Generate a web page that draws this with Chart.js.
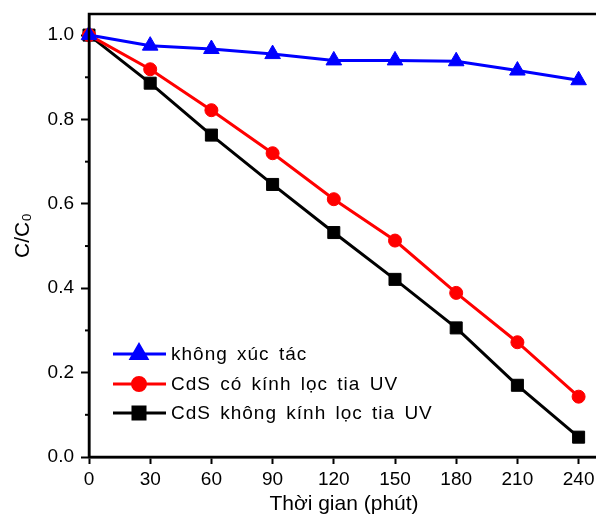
<!DOCTYPE html>
<html>
<head>
<meta charset="utf-8">
<script src="https://cdn.jsdelivr.net/npm/chart.js@4"></script>
<style>
  html, body { margin: 0; padding: 0; background: #fff; overflow: hidden; }
  #wrap { width: 609px; height: 517px; }
</style>
</head>
<body>
<div id="wrap"><canvas id="chart" width="609" height="517"></canvas></div>
<script>
// thời gian (phút)
const times = [0, 30, 60, 90, 120, 150, 180, 210, 240];
const noCatalyst = [1.0, 0.975, 0.967, 0.955, 0.94, 0.94, 0.938, 0.916, 0.893];
const cdsFilter = [1.0, 0.919, 0.822, 0.720, 0.611, 0.513, 0.389, 0.272, 0.143];
const cdsNoFilter = [1.0, 0.886, 0.763, 0.646, 0.532, 0.421, 0.306, 0.170, 0.047];
const seriesLabels = ['không xúc tác', 'CdS có kính lọc tia UV', 'CdS không kính lọc tia UV'];
const xTicks = [0, 30, 60, 90, 120, 150, 180, 210, 240];
const yTicks = [0.0, 0.2, 0.4, 0.6, 0.8, 1.0];
const yMinor = [0.1, 0.3, 0.5, 0.7, 0.9];

const FONT = '"Liberation Sans", Arial, sans-serif';

function toPoints(vals) {
    return times.map((t, i) => ({ x: t, y: vals[i] }));
}

// khung + vạch chia phụ
const framePlugin = {
    id: 'frame',
    afterDraw(chart) {
        const { ctx, chartArea: a, scales: { y } } = chart;
        ctx.save();
        ctx.strokeStyle = '#000';
        ctx.lineWidth = 2.5;
        ctx.strokeRect(a.left, a.top, a.right - a.left, a.bottom - a.top);
        ctx.lineWidth = 2;
        yMinor.forEach(v => {
            const py = y.getPixelForValue(v);
            ctx.beginPath();
            ctx.moveTo(a.left - 4, py);
            ctx.lineTo(a.left, py);
            ctx.stroke();
        });
        ctx.restore();
    }
};

// chú thích bên trong vùng vẽ
const legendPlugin = {
    id: 'innerLegend',
    afterDatasetsDraw(chart) {
        const ctx = chart.ctx;
        const rows = [354, 384, 413];
        ctx.save();
        chart.data.datasets.forEach((ds, i) => {
            const yy = rows[i];
            ctx.strokeStyle = ds.borderColor;
            ctx.fillStyle = ds.backgroundColor;
            ctx.lineWidth = 3;
            ctx.beginPath();
            ctx.moveTo(113, yy);
            ctx.lineTo(166, yy);
            ctx.stroke();
            Chart.helpers.drawPoint(ctx, { pointStyle: ds.pointStyle, radius: ds.pointRadius, rotation: 0, borderWidth: 1 }, 139, yy);
            ctx.fillStyle = '#000';
            ctx.font = '19px ' + FONT;
            ctx.letterSpacing = '1px';
            ctx.wordSpacing = '3px';
            ctx.textBaseline = 'middle';
            ctx.textAlign = 'left';
            ctx.fillText(ds.label, 171, yy + 1);
        });
        ctx.restore();
    }
};

new Chart(document.getElementById('chart'), {
    type: 'line',
    data: {
        datasets: [
            { label: seriesLabels[0], data: toPoints(noCatalyst), borderColor: '#0000ff', backgroundColor: '#0000ff', pointStyle: 'triangle', pointRadius: 9 },
            { label: seriesLabels[1], data: toPoints(cdsFilter), borderColor: '#ff0000', backgroundColor: '#ff0000', pointStyle: 'circle', pointRadius: 6.5 },
            { label: seriesLabels[2], data: toPoints(cdsNoFilter), borderColor: '#000000', backgroundColor: '#000000', pointStyle: 'rect', pointRadius: 8.5 }
        ].map(d => Object.assign(d, { borderWidth: 3, pointBorderWidth: 1, tension: 0, clip: false }))
    },
    options: {
        responsive: false,
        animation: false,
        layout: { padding: { left: 0, top: 14, right: 2, bottom: 0 } },
        plugins: { legend: { display: false }, tooltip: { enabled: false } },
        scales: {
            x: {
                type: 'linear',
                min: 0,
                max: 250,
                afterBuildTicks: s => { s.ticks = xTicks.map(v => ({ value: v })); },
                afterFit: s => { s.height = 60; },
                grid: { drawOnChartArea: false, drawTicks: true, tickLength: 7, tickWidth: 2, tickColor: '#000' },
                border: { display: true, color: '#000', width: 2.5 },
                ticks: { color: '#000', font: { family: FONT, size: 19 }, padding: 4, maxRotation: 0 },
                title: { display: true, text: 'Thời gian (phút)', color: '#000', font: { family: FONT, size: 21 }, padding: { top: 0, bottom: 0 } }
            },
            y: {
                min: 0,
                max: 1.05,
                afterBuildTicks: s => { s.ticks = yTicks.map(v => ({ value: v })); },
                afterFit: s => { s.width = 89; s.paddingTop = 0; s.paddingBottom = 0; },
                grid: { drawOnChartArea: false, drawTicks: true, tickLength: 8, tickWidth: 2, tickColor: '#000' },
                border: { display: true, color: '#000', width: 2.5 },
                ticks: { color: '#000', font: { family: FONT, size: 19 }, padding: 7, callback: v => v.toFixed(1) },
                title: { display: true, text: 'C/C₀', color: '#000', font: { family: FONT, size: 21 }, padding: { top: 11, bottom: 0 } }
            }
        }
    },
    plugins: [framePlugin, legendPlugin]
});
</script>
</body>
</html>
